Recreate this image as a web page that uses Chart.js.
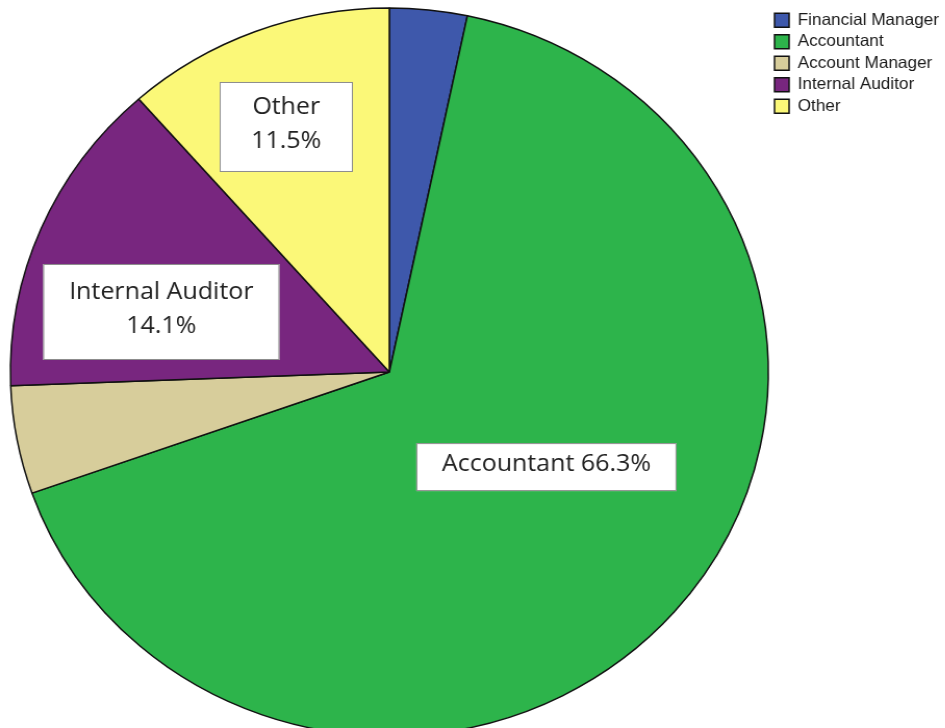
<!DOCTYPE html>
<html>
<head>
<meta charset="utf-8">
<script src="https://cdn.jsdelivr.net/npm/chart.js@4.4.1/dist/chart.umd.min.js"></script>
<style>
    html, body { margin: 0; padding: 0; background: #fff; overflow: hidden; }
    #jobPie {
        display: block;
        width: 908px;
        height: 744px;
        /* the pie is slightly wider than tall */
        transform: scaleX(1.041);
        transform-origin: 0 0;
    }
</style>
</head>
<body>
<canvas id="jobPie" width="908" height="744"></canvas>
<script>
const jobTitles = ['Financial Manager', 'Accountant', 'Account Manager', 'Internal Auditor', 'Other'];
const jobPercents = [3.3, 66.3, 4.8, 14.1, 11.5];
const sliceColors = ['#3e58ab', '#2db44b', '#d7cd9b', '#78267f', '#fbf878'];

// Boxed callouts for the bigger slices (null = no callout)
const callouts = [
    null,
    { frac: 0.49, shift: -9, w: 250, h: 48, oneLine: true },
    null,
    { frac: 0.624, shift: -7.9, w: 227, h: 96, oneLine: false },
    { frac: 0.726, shift: -1.3, w: 128, h: 90, oneLine: false }
];

const calloutPlugin = {
    id: 'callouts',
    afterDatasetsDraw(chart) {
        const ctx = chart.ctx;
        const meta = chart.getDatasetMeta(0);
        meta.data.forEach(function (arc, i) {
            const c = callouts[i];
            if (!c) return;
            const p = arc.getProps(['x', 'y', 'startAngle', 'endAngle', 'outerRadius'], true);
            const a = (p.startAngle + p.endAngle) / 2 + c.shift * Math.PI / 180;
            const cx = p.x + Math.cos(a) * p.outerRadius * c.frac;
            const cy = p.y + Math.sin(a) * p.outerRadius * c.frac;
            const pct = jobPercents[i].toFixed(1) + '%';
            const lines = c.oneLine ? [jobTitles[i] + ' ' + pct] : [jobTitles[i], pct];

            ctx.save();
            ctx.fillStyle = '#ffffff';
            ctx.strokeStyle = '#8c8c8c';
            ctx.lineWidth = 1;
            ctx.fillRect(cx - c.w / 2, cy - c.h / 2, c.w, c.h);
            ctx.strokeRect(cx - c.w / 2 + 0.5, cy - c.h / 2 + 0.5, c.w - 1, c.h - 1);

            ctx.fillStyle = '#222222';
            ctx.font = '24px "Open Sans", sans-serif';
            ctx.textAlign = 'center';
            ctx.textBaseline = 'middle';
            const lineH = 34;
            const top = cy - 3 - (lines.length - 1) * lineH / 2;
            lines.forEach(function (t, k) {
                ctx.fillText(t, cx, top + k * lineH);
            });
            ctx.restore();
        });
    }
};

const ctx = document.getElementById('jobPie').getContext('2d');
new Chart(ctx, {
    type: 'pie',
    data: {
        labels: jobTitles,
        datasets: [{
            data: jobPercents,
            backgroundColor: sliceColors,
            borderColor: '#111111',
            borderWidth: 1.5,
            radius: 364
        }]
    },
    options: {
        responsive: false,
        animation: false,
        events: [],
        layout: {
            padding: { top: 7, bottom: 7, left: 9, right: -4 }
        },
        plugins: {
            tooltip: { enabled: false },
            legend: {
                display: true,
                position: 'right',
                align: 'start',
                labels: {
                    boxWidth: 14,
                    boxHeight: 14,
                    padding: 5,
                    color: '#1a1a1a',
                    font: { family: '"Liberation Sans", Arial, sans-serif', size: 16.5 }
                }
            }
        }
    },
    plugins: [calloutPlugin]
});
</script>
</body>
</html>
